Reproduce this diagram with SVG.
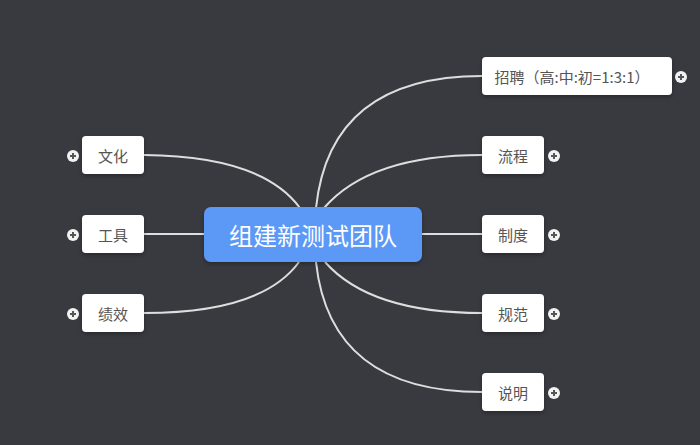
<svg xmlns="http://www.w3.org/2000/svg" width="700" height="445" viewBox="0 0 700 445">
<defs>
<style>
.bg{fill:#393a40}
.node rect{fill:#ffffff}
.node text{font-family:"Noto Sans CJK SC","Noto Sans",sans-serif;font-size:15px;fill:#555;text-anchor:middle;dominant-baseline:central}
.root rect{fill:#5b98f6}
.root text{font-family:"Noto Sans CJK SC","Noto Sans",sans-serif;font-size:24px;fill:#fff;text-anchor:middle;dominant-baseline:central}
.conn path{fill:none;stroke:#dedede;stroke-width:2}
.plus circle{fill:#f2f2f2}
.plus path{stroke:#555;stroke-width:2;fill:none}
</style>
<filter id="sh" x="-20%" y="-20%" width="140%" height="160%">
<feDropShadow dx="0" dy="2" stdDeviation="2" flood-color="#000" flood-opacity="0.3"/>
</filter>
</defs>
<rect class="bg" x="0" y="0" width="700" height="445"/>
<g class="conn" id="connectors">
<path d="M300,208 Q262,156 144,155"/>
<path d="M144,234 L204,234"/>
<path d="M299,262 Q262,313 144,313"/>
<path d="M316,208 Q330,76 482,76"/>
<path d="M324,208 Q370,155 482,155"/>
<path d="M422,234 L482,234"/>
<path d="M325,262 Q370,313 482,313"/>
<path d="M316,262 Q330,392 482,392"/>
</g>
<g id="root" class="root"><rect x="204" y="207" width="218" height="55" rx="7" filter="url(#sh)"/><text x="313" y="234.5">组建新测试团队</text></g>
<g id="n-wenhua" class="node"><rect x="82" y="136" width="62" height="38" rx="4" filter="url(#sh)"/><text x="113" y="155">文化</text></g>
<g id="n-gongju" class="node"><rect x="82" y="215" width="62" height="38" rx="4" filter="url(#sh)"/><text x="113" y="234">工具</text></g>
<g id="n-jixiao" class="node"><rect x="82" y="294" width="62" height="38" rx="4" filter="url(#sh)"/><text x="113" y="313">绩效</text></g>
<g id="n-zhaopin" class="node"><rect x="482" y="57" width="190" height="38" rx="4" filter="url(#sh)"/><text x="572" y="76">招聘（高:中:初=1:3:1）</text></g>
<g id="n-liucheng" class="node"><rect x="482" y="136" width="62" height="38" rx="4" filter="url(#sh)"/><text x="513" y="155">流程</text></g>
<g id="n-zhidu" class="node"><rect x="482" y="215" width="62" height="38" rx="4" filter="url(#sh)"/><text x="513" y="234">制度</text></g>
<g id="n-guifan" class="node"><rect x="482" y="294" width="62" height="38" rx="4" filter="url(#sh)"/><text x="513" y="313">规范</text></g>
<g id="n-shuoming" class="node"><rect x="482" y="373" width="62" height="38" rx="4" filter="url(#sh)"/><text x="513" y="392">说明</text></g>
<g class="plus" id="expanders">
<g><circle cx="73" cy="156" r="6"/><path d="M70,156h6M73,153v6"/></g>
<g><circle cx="73" cy="235" r="6"/><path d="M70,235h6M73,232v6"/></g>
<g><circle cx="73" cy="314" r="6"/><path d="M70,314h6M73,311v6"/></g>
<g><circle cx="681" cy="77" r="6"/><path d="M678,77h6M681,74v6"/></g>
<g><circle cx="554" cy="156" r="6"/><path d="M551,156h6M554,153v6"/></g>
<g><circle cx="554" cy="235" r="6"/><path d="M551,235h6M554,232v6"/></g>
<g><circle cx="554" cy="314" r="6"/><path d="M551,314h6M554,311v6"/></g>
<g><circle cx="554" cy="393" r="6"/><path d="M551,393h6M554,390v6"/></g>
</g>
</svg>
